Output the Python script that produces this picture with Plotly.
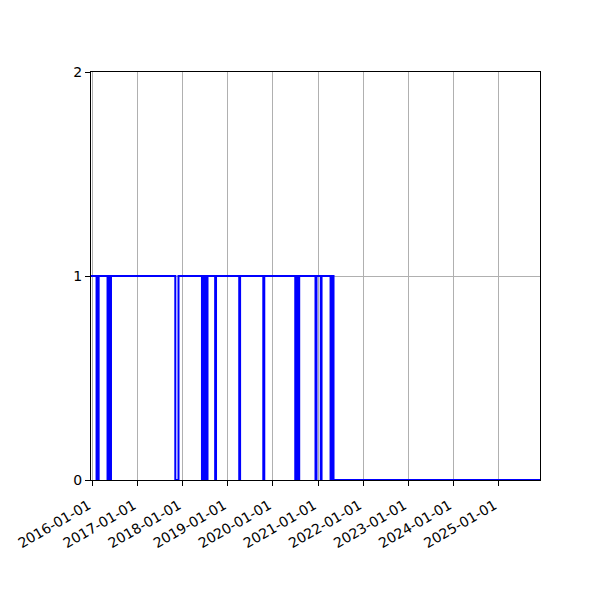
import plotly.graph_objects as go

# change points of the on/off series (value holds until the next date)
change_dates = [
    "2015-12-19",
    "2016-02-02", "2016-02-09", "2016-02-12", "2016-02-19",
    "2016-05-01", "2016-05-08", "2016-05-15", "2016-05-22", "2016-05-25", "2016-05-29",
    "2017-11-01", "2017-11-27",
    "2018-06-05", "2018-06-12", "2018-06-19", "2018-06-26", "2018-07-03", "2018-07-10",
    "2018-07-13", "2018-07-20",
    "2018-09-20", "2018-09-27",
    "2019-04-03", "2019-04-10",
    "2019-10-15", "2019-10-23",
    "2020-06-30", "2020-07-07", "2020-07-14", "2020-07-21", "2020-07-25", "2020-08-01",
    "2020-12-11", "2020-12-19",
    "2021-01-23", "2021-01-29",
    "2021-04-12", "2021-04-19", "2021-04-26", "2021-05-01", "2021-05-06",
    "2025-12-04",
]
states = [
    1,
    0, 1, 0, 1,
    0, 1, 0, 1, 0, 1,
    0, 1,
    0, 1, 0, 1, 0, 1,
    0, 1,
    0, 1,
    0, 1,
    0, 1,
    0, 1, 0, 1, 0, 1,
    0, 1,
    0, 1,
    0, 1, 0, 1, 0,
    0,
]

year_ticks = [f"{y}-01-01" for y in range(2016, 2026)]
y_ticks = [0, 1, 2]

fig = go.Figure()
fig.add_trace(go.Scatter(
    x=change_dates, y=states, mode="lines",
    line=dict(color="#0000ff", width=2, shape="hv"),
    showlegend=False,
))

axis_style = dict(
    showline=True, linecolor="black", linewidth=1, mirror=True,
    ticks="outside", ticklen=5, tickwidth=1, tickcolor="black",
    showgrid=True, gridcolor="#b0b0b0", gridwidth=1,
    zeroline=False, layer="below traces", automargin=False,
    tickfont=dict(family="DejaVu Sans", size=14, color="black"),
)

fig.update_xaxes(
    type="date", range=["2015-12-19", "2025-12-04"],
    tickvals=year_ticks, ticktext=year_ticks, tickangle=-30,
    ticklabelstandoff=6, ticklabelshift=-4,
    **axis_style,
)
fig.update_yaxes(range=[0, 2], tickvals=y_ticks, **axis_style)

# the page body adds 8px, so margins are shifted to put the plot at 91..540 / 72..480
fig.update_layout(
    width=600, height=600,
    margin=dict(l=83, r=68, t=64, b=128, autoexpand=False),
    paper_bgcolor="white", plot_bgcolor="white",
    font=dict(family="DejaVu Sans"),
)

fig.write_html("out.html")
